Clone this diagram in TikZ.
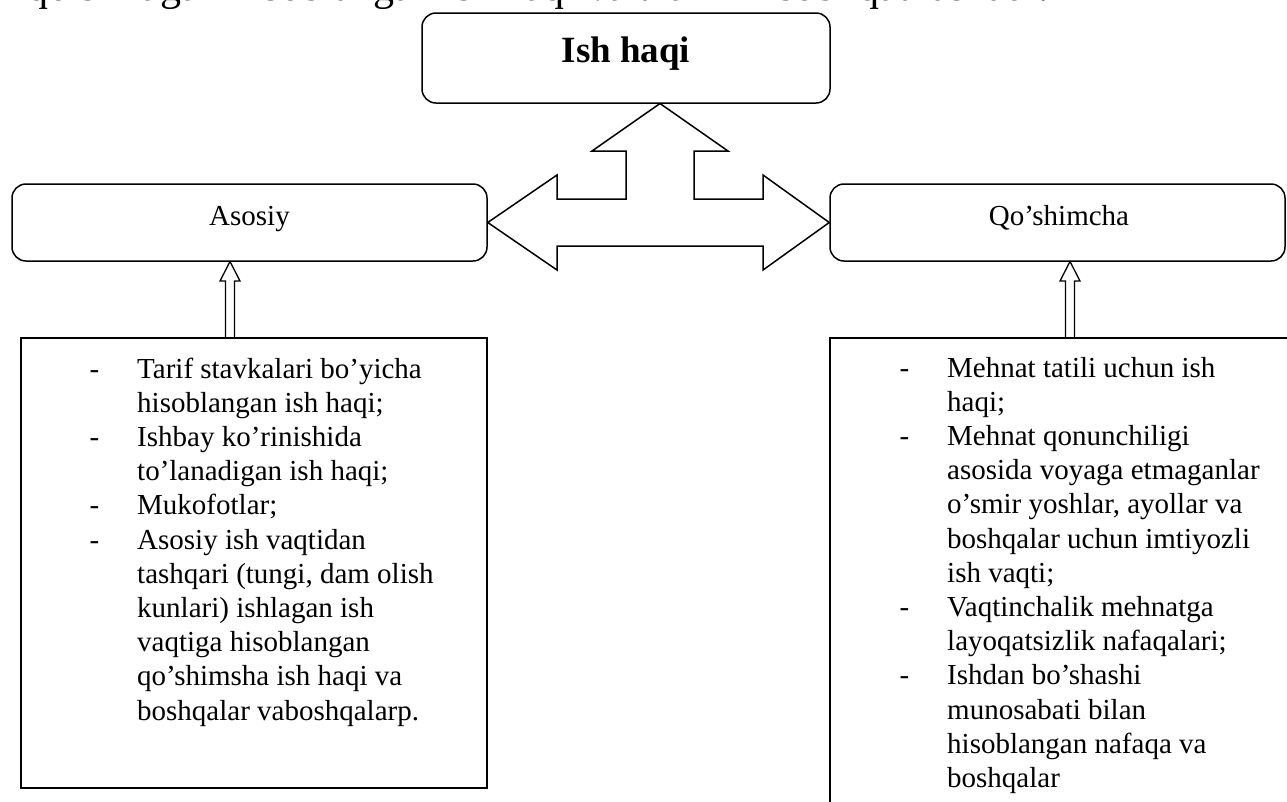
\documentclass[tikz,border=0pt]{standalone}
\usepackage{fontspec}
\setmainfont{Liberation Serif}
\newcommand\itemdash{\leavevmode\llap{-\hspace{38pt}}}
\newcommand\bodyfont{\fontsize{29}{34.2}\selectfont}
\begin{document}
\begin{tikzpicture}[x=1pt,y=-1pt,
  roundbox/.style={draw, line width=1.5pt, rounded corners=14pt, inner sep=0pt},
  listbox/.style={draw, line width=2pt, inner sep=0pt},
  caption/.style={anchor=base, inner sep=0pt, font=\bodyfont},
  listtext/.style={anchor=base west, inner sep=0pt},
  outline/.style={line width=1.5pt, line join=miter}]
\useasboundingbox (0,0) rectangle (1287,801);
\clip (0,0) rectangle (1287,801);

% running text line above the chart
\node[anchor=base west, inner sep=0pt, font=\fontsize{42}{46}\selectfont] (lead) at (27,0.5)
  {qo’shilagan hisoblangan ish haqi va ularni hisobi qatnashadi.};

% top box
\node[roundbox, minimum width=408pt, minimum height=90pt] (top) at (626,58) {};
\node[anchor=base, inner sep=0pt, font=\bfseries\fontsize{37}{40}\selectfont] (toplabel) at (626,62) {Ish haqi};

% second level boxes
\node[roundbox, minimum width=475pt, minimum height=77pt] (asosiy) at (249.5,222.5) {};
\node[caption] (asosiylabel) at (249.5,225) {Asosiy};
\node[roundbox, minimum width=455pt, minimum height=77pt] (qosh) at (1057.5,222.5) {};
\node[caption] (qoshlabel) at (1059,225) {Qo’shimcha};

% three-way block arrow
\coordinate (apex) at (660,103.5);
\draw[outline] (asosiy.east) -- (557,175) -- (557,199) -- (626,199) -- (626,151) -- (592,151)
  -- (apex) -- (728,151) -- (694,151) -- (694,199) -- (763,199) -- (763,175)
  -- (qosh.west) -- (763,270) -- (763,246) -- (557,246) -- (557,270) -- cycle;

% list boxes
\node[listbox, minimum width=466pt, minimum height=450pt] (lbox) at (254,563) {};
\node[listbox, minimum width=480pt, minimum height=490pt] (rbox) at (1070,583) {};

% hollow arrows from the list boxes up to the second level
\draw[outline, line width=1.3pt]
  (230,261.5) -- (240,281) -- (234.5,281) -- (234.5,338) -- (225.5,338) -- (225.5,281) -- (220,281) -- cycle;
\draw[outline, line width=1.3pt]
  (1070,261.5) -- (1080,281) -- (1074.5,281) -- (1074.5,338) -- (1065.5,338) -- (1065.5,281) -- (1060,281) -- cycle;

% list texts
\node[listtext] (ltext) at (137,378) {\begin{minipage}[t]{345pt}\bodyfont\raggedright
\itemdash Tarif stavkalari bo’yicha\\
hisoblangan ish haqi;\\
\itemdash Ishbay ko’rinishida\\
to’lanadigan ish haqi;\\
\itemdash Mukofotlar;\\
\itemdash Asosiy ish vaqtidan\\
tashqari (tungi, dam olish\\
kunlari) ishlagan ish\\
vaqtiga hisoblangan\\
qo’shimsha ish haqi va\\
boshqalar vaboshqalarp.
\end{minipage}};

\node[listtext] (rtext) at (947,377) {\begin{minipage}[t]{335pt}\bodyfont\raggedright
\itemdash Mehnat tatili uchun ish\\
haqi;\\
\itemdash Mehnat qonunchiligi\\
asosida voyaga etmaganlar\\
o’smir yoshlar, ayollar va\\
boshqalar uchun imtiyozli\\
ish vaqti;\\
\itemdash Vaqtinchalik mehnatga\\
layoqatsizlik nafaqalari;\\
\itemdash Ishdan bo’shashi\\
munosabati bilan\\
hisoblangan nafaqa va\\
boshqalar
\end{minipage}};
\end{tikzpicture}
\end{document}
